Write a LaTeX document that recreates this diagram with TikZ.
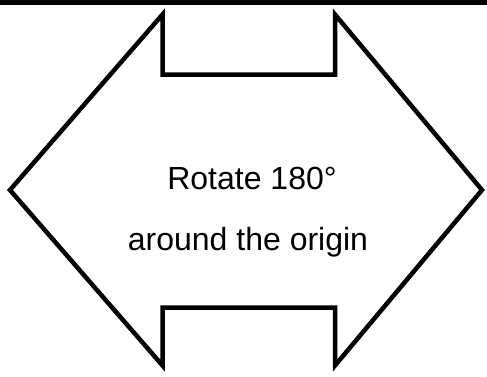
\documentclass[tikz,border=0pt]{standalone}
\usepackage{fontspec}
\setmainfont{Liberation Sans}
\usepackage{tikz}
\usetikzlibrary{positioning}
\tikzset{
  outline/.style={draw=black, line width=4.5pt, miter limit=20, fill=white},
  caption/.style={anchor=base, font=\fontsize{32}{38}\selectfont, inner sep=0pt}
}

\begin{document}
\begin{tikzpicture}[x=1pt, y=1pt]
  \useasboundingbox (0,0) rectangle (487,376);
  % Top bar
  \fill[black] (0,371) rectangle (487,376);

  % Double arrow
  \draw[outline] (10,186) -- (162.5,361.5) -- (162.5,301.5) -- (335,301.5) -- (335,361.5)
    -- (482,186) -- (335,10.5) -- (335,68.5) -- (162.5,68.5) -- (162.5,10.5) -- cycle;

  % Nodes
  \node[caption] (rotate) at (252,187) {Rotate 180°};
  \node[caption] (origin) at (248,126) {around the origin};
\end{tikzpicture}
\end{document}
